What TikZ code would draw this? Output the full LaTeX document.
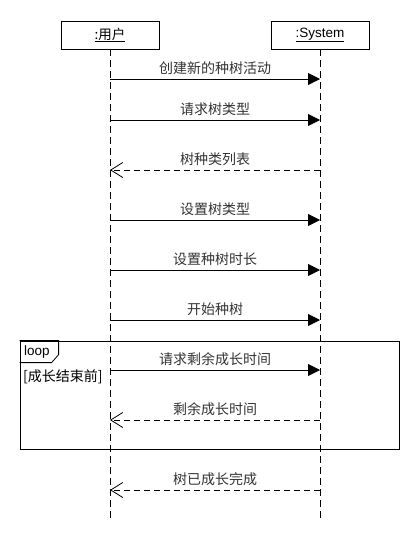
\documentclass[tikz,border=0pt]{standalone}
\usepackage{fontspec}
\setmainfont{Liberation Sans}
\newfontfamily\cjk{Noto Sans CJK SC}
\usetikzlibrary{arrows.meta}
\begin{document}
\begin{tikzpicture}[x=1pt,y=-1pt,font=\fontsize{13.5}{16}\selectfont]
        \tikzset{ObjStyle/.style={draw,line width=0.8pt,minimum width=98pt,minimum height=28pt,inner sep=0pt}}
        \tikzset{LifeStyle/.style={line width=0.8pt,dash pattern=on 7pt off 4pt}}
        \tikzset{CallStyle/.style={line width=0.8pt,-{Triangle[length=12pt,width=12pt]}}}
        \tikzset{ReplyStyle/.style={line width=0.8pt,dash pattern=on 6pt off 4pt,-{Straight Barb[length=12pt,width=15pt]}}}
        \tikzset{MsgStyle/.style={midway,anchor=south,yshift=4pt,inner sep=0pt,text=black!80,font=\cjk\fontsize{14}{16}\selectfont}}
        \useasboundingbox (0,0) rectangle (420,560);
        \node[ObjStyle] (User) at (110,35) {\cjk\underline{:用户}};
        \node[ObjStyle] (Sys) at (320,35) {\underline{:System}};
        \coordinate (UserEnd) at (110,520);
        \coordinate (SysEnd) at (320,520);
        \draw[LifeStyle] (User) -- (UserEnd);
        \draw[LifeStyle] (Sys) -- (SysEnd);
        \foreach \n/\y in {1/79,2/120,3/170,4/220,5/270,6/320,7/370,8/420,9/490}{
            \coordinate (U\n) at (110,\y);
            \coordinate (S\n) at (320,\y);
        }
        \draw[CallStyle] (U1) -- node[MsgStyle] {创建新的种树活动} (S1);
        \draw[CallStyle] (U2) -- node[MsgStyle] {请求树类型} (S2);
        \draw[ReplyStyle] (S3) -- node[MsgStyle] {树种类列表} (U3);
        \draw[CallStyle] (U4) -- node[MsgStyle] {设置树类型} (S4);
        \draw[CallStyle] (U5) -- node[MsgStyle] {设置种树时长} (S5);
        \draw[CallStyle] (U6) -- node[MsgStyle] {开始种树} (S6);
        \node[draw,line width=0.8pt,minimum width=379pt,minimum height=108pt,inner sep=0pt] (Loop) at (209.5,395) {};
        \draw[line width=0.8pt] (Loop.north west) -- ++(39,0) -- ++(0,14) -- ++(-7,8) -- ++(-32,0);
        \node[anchor=west,inner sep=0pt] (LoopLbl) at (24,352) {loop};
        \node[anchor=west,inner sep=0pt,font=\cjk\fontsize{14}{16}\selectfont] (Guard) at (23,377) {[成长结束前]};
        \draw[CallStyle] (U7) -- node[MsgStyle] {请求剩余成长时间} (S7);
        \draw[ReplyStyle] (S8) -- node[MsgStyle] {剩余成长时间} (U8);
        \draw[ReplyStyle] (S9) -- node[MsgStyle] {树已成长完成} (U9);
    \end{tikzpicture}
\end{document}
